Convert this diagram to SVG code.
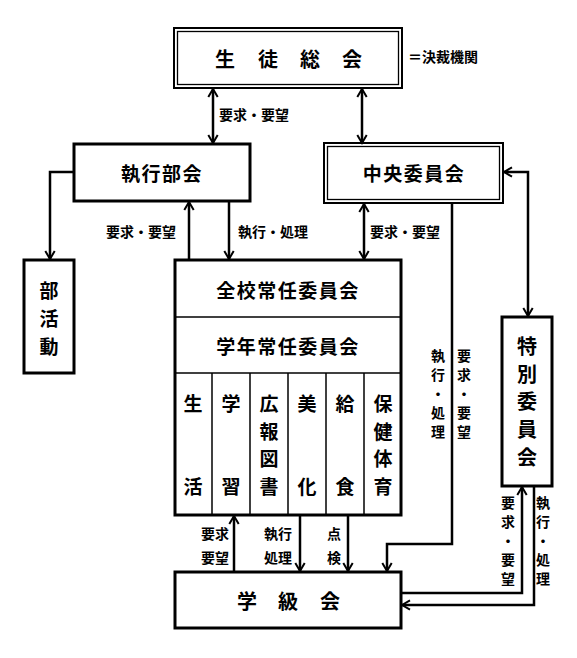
<svg xmlns="http://www.w3.org/2000/svg" width="577" height="658" viewBox="0 0 577 658">
<style>
.b{fill:#fff;stroke:#000;stroke-width:3}
.d{fill:none;stroke:#000;stroke-width:2}
.di{fill:none;stroke:#000;stroke-width:1.3}
.t{font-family:"Noto Sans CJK JP","Noto Sans",sans-serif;font-weight:bold;fill:#000;text-anchor:middle;dominant-baseline:central}
.L{font-size:19px;letter-spacing:1.5px}
.s{font-size:14px}
.c{fill:none;stroke:#000;stroke-width:2.5}
.m{marker-end:url(#a)}
.mm{marker-end:url(#a);marker-start:url(#a)}
.thin{stroke:#000;stroke-width:1.5}
</style>
<defs>
<marker id="a" markerUnits="userSpaceOnUse" markerWidth="12" markerHeight="12" viewBox="0 0 12 12" refX="10.5" refY="6" orient="auto-start-reverse">
<path d="M2.5,1.3 L10.5,6 L2.5,10.7" fill="none" stroke="#000" stroke-width="2"/>
</marker>
</defs>
<rect width="577" height="658" fill="#fff"/>

<g id="connectors">
<path class="c mm" d="M213,89 V143"/>
<path class="c mm" d="M362,89 V143"/>
<path class="c m" d="M74,172 H50 V259"/>
<path class="c m" d="M189,260 V202"/>
<path class="c m" d="M229,202 V259"/>
<path class="c mm" d="M364,204 V259"/>
<path class="c m" d="M452,203 V544 H387 V571"/>
<path class="c mm" d="M504,172 H528 V316"/>
<path class="c m" d="M234,571 V516"/>
<path class="c m" d="M300,516 V571"/>
<path class="c m" d="M348,516 V571"/>
<path class="c m" d="M402,593 H522 V487"/>
<path class="c m" d="M534,487 V605 H402"/>
<text class="t s" x="254" y="114">要求・要望</text>
<text class="t s" x="141" y="231">要求・要望</text>
<text class="t s" x="273" y="231">執行・処理</text>
<text class="t s" x="405" y="231">要求・要望</text>
<text class="t s" x="215" y="533">要求</text>
<text class="t s" x="215" y="557">要望</text>
<text class="t s" x="278" y="533">執行</text>
<text class="t s" x="278" y="557">処理</text>
<text class="t s" x="334" y="533">点</text>
<text class="t s" x="334" y="557">検</text>
<text class="t s" x="438" y="355">執<tspan x="438" dy="19">行</tspan><tspan x="438" dy="19">・</tspan><tspan x="438" dy="19">処</tspan><tspan x="438" dy="19">理</tspan></text>
<text class="t s" x="464" y="355">要<tspan x="464" dy="19">求</tspan><tspan x="464" dy="19">・</tspan><tspan x="464" dy="19">要</tspan><tspan x="464" dy="19">望</tspan></text>
<text class="t s" x="508" y="502">要<tspan x="508" dy="19">求</tspan><tspan x="508" dy="19">・</tspan><tspan x="508" dy="19">要</tspan><tspan x="508" dy="19">望</tspan></text>
<text class="t s" x="543" y="502">執<tspan x="543" dy="19">行</tspan><tspan x="543" dy="19">・</tspan><tspan x="543" dy="19">処</tspan><tspan x="543" dy="19">理</tspan></text>
</g>

<g id="seitosoukai">
<rect class="d" x="174" y="28" width="228" height="60" fill="#fff"/>
<rect class="di" x="177.5" y="31.5" width="221" height="53"/>
<text class="t" font-size="20" x="225" y="58">生</text>
<text class="t" font-size="20" x="268" y="58">徒</text>
<text class="t" font-size="20" x="310" y="58">総</text>
<text class="t" font-size="20" x="352" y="58">会</text>
<text class="t s" x="443" y="56">＝決裁機関</text>
</g>

<g id="shikkoubukai">
<rect class="b" x="74" y="144" width="176" height="57"/>
<text class="t L" x="162" y="172">執行部会</text>
</g>

<g id="chuuouiinkai">
<rect class="d" x="324" y="143" width="179" height="60" fill="#fff"/>
<rect class="di" x="327.5" y="146.5" width="172" height="53"/>
<text class="t L" x="414" y="172">中央委員会</text>
</g>

<g id="bukatsudou">
<rect class="b" x="24" y="260" width="50" height="113"/>
<text class="t" font-size="19" x="49" y="289">部<tspan x="49" dy="28">活</tspan><tspan x="49" dy="28">動</tspan></text>
</g>

<g id="joninkai">
<rect class="b" x="175" y="260" width="226" height="255"/>
<line class="thin" x1="175" y1="317" x2="401" y2="317" stroke-width="3"/>
<line class="thin" x1="175" y1="373" x2="401" y2="373" stroke-width="2"/>
<line class="thin" x1="212" y1="373" x2="212" y2="515"/>
<line class="thin" x1="250" y1="373" x2="250" y2="515"/>
<line class="thin" x1="288" y1="373" x2="288" y2="515" stroke-width="2.5"/>
<line class="thin" x1="326" y1="373" x2="326" y2="515"/>
<line class="thin" x1="364" y1="373" x2="364" y2="515"/>
<text class="t L" x="288" y="289">全校常任委員会</text>
<text class="t L" x="288" y="345">学年常任委員会</text>
<text class="t" font-size="19" x="193" y="402">生</text>
<text class="t" font-size="19" x="193" y="485">活</text>
<text class="t" font-size="19" x="231" y="402">学</text>
<text class="t" font-size="19" x="231" y="485">習</text>
<text class="t" font-size="19" x="269" y="402">広<tspan x="269" dy="27.7">報</tspan><tspan x="269" dy="27.7">図</tspan><tspan x="269" dy="27.7">書</tspan></text>
<text class="t" font-size="19" x="307" y="402">美</text>
<text class="t" font-size="19" x="307" y="485">化</text>
<text class="t" font-size="19" x="345" y="402">給</text>
<text class="t" font-size="19" x="345" y="485">食</text>
<text class="t" font-size="19" x="383" y="402">保<tspan x="383" dy="27.7">健</tspan><tspan x="383" dy="27.7">体</tspan><tspan x="383" dy="27.7">育</tspan></text>
</g>

<g id="tokubetsuiinkai">
<rect class="b" x="502" y="317" width="50" height="169"/>
<text class="t" font-size="20" x="527" y="345">特<tspan x="527" dy="27.7">別</tspan><tspan x="527" dy="27.7">委</tspan><tspan x="527" dy="27.7">員</tspan><tspan x="527" dy="27.7">会</tspan></text>
</g>

<g id="gakkyuukai">
<rect class="b" x="175" y="572" width="226" height="56"/>
<text class="t" font-size="20" x="247" y="600">学</text>
<text class="t" font-size="20" x="288" y="600">級</text>
<text class="t" font-size="20" x="330" y="600">会</text>
</g>
</svg>
